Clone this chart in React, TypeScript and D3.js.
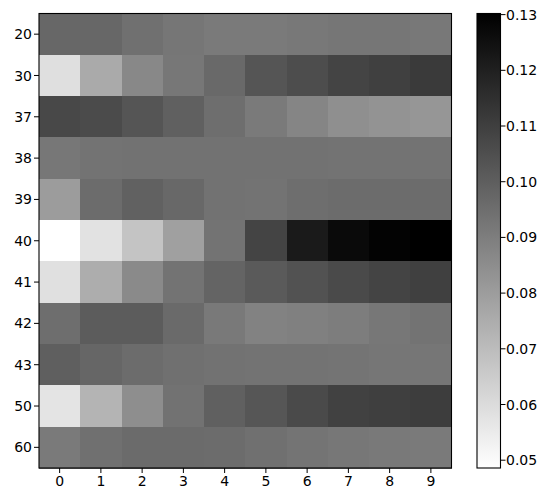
import React from "react";
import * as d3 from "d3";

const rowLabels = ["20", "30", "37", "38", "39", "40", "41", "42", "43", "50", "60"];
const colLabels = ["0", "1", "2", "3", "4", "5", "6", "7", "8", "9"];

const row20 = [0.0972, 0.0972, 0.0944, 0.0924, 0.0912, 0.0912, 0.0918, 0.0924, 0.0924, 0.0918];
const row30 = [0.0588, 0.0758, 0.0867, 0.0921, 0.0966, 0.103, 0.1056, 0.1084, 0.1097, 0.1116];
const row37 = [0.1072, 0.1062, 0.103, 0.0995, 0.095, 0.0912, 0.0876, 0.0844, 0.0832, 0.0822];
const row38 = [0.0921, 0.0934, 0.0937, 0.0937, 0.0937, 0.0937, 0.0937, 0.0934, 0.0934, 0.0934];
const row39 = [0.0803, 0.0956, 0.0992, 0.0969, 0.0937, 0.0934, 0.095, 0.0956, 0.0956, 0.0956];
const row40 = [0.0486, 0.0579, 0.0675, 0.079, 0.0934, 0.1084, 0.1219, 0.127, 0.1292, 0.1302];
const row41 = [0.0585, 0.0748, 0.086, 0.0934, 0.0982, 0.1014, 0.104, 0.1065, 0.1084, 0.1097];
const row42 = [0.095, 0.1008, 0.1008, 0.0963, 0.0915, 0.0886, 0.0892, 0.0902, 0.0921, 0.0934];
const row43 = [0.0998, 0.0976, 0.0956, 0.0944, 0.0937, 0.0934, 0.0934, 0.0931, 0.0924, 0.0924];
const row50 = [0.0572, 0.0726, 0.0848, 0.0937, 0.0995, 0.1027, 0.1065, 0.1094, 0.11, 0.1107];
const row60 = [0.0912, 0.0944, 0.096, 0.096, 0.0956, 0.0944, 0.0931, 0.0921, 0.0915, 0.0912];

const matrix = [row20, row30, row37, row38, row39, row40, row41, row42, row43, row50, row60];
const cbTicks = [0.05, 0.06, 0.07, 0.08, 0.09, 0.1, 0.11, 0.12, 0.13];

const W = 550;
const H = 497;
const plot = { left: 39, right: 451.5, top: 13.5, bottom: 468 };
const cb = { left: 477, right: 500.5, top: 13.5, bottom: 468 };
const FONT = "DejaVu Sans, sans-serif";
const FS = 14;

export default function App() {
  const all = matrix.flat();
  const [vmin, vmax] = d3.extent(all) as [number, number];
  const color = d3
    .scaleLinear<string>()
    .domain([vmin, vmax])
    .range(["#ffffff", "#000000"])
    .interpolate(d3.interpolateRgb)
    .clamp(true);

  const x = d3.scaleBand<string>().domain(colLabels).range([plot.left, plot.right]).padding(0);
  const y = d3.scaleBand<string>().domain(rowLabels).range([plot.top, plot.bottom]).padding(0);
  const cy = d3.scaleLinear().domain([vmin, vmax]).range([cb.bottom, cb.top]);

  return (
    <svg
      width={W}
      height={H}
      style={{ position: "absolute", left: 0, top: 0, background: "#fff" }}
      fontFamily={FONT}
    >
      <defs>
        <linearGradient id="cbgrad" x1="0" y1="1" x2="0" y2="0">
          <stop offset="0%" stopColor="#ffffff" />
          <stop offset="100%" stopColor="#000000" />
        </linearGradient>
      </defs>
      {matrix.map((row, i) =>
        row.map((v, j) => (
          <rect
            key={`${i}-${j}`}
            x={x(colLabels[j])}
            y={y(rowLabels[i])}
            width={x.bandwidth() + 0.5}
            height={y.bandwidth() + 0.5}
            fill={color(v)}
            shapeRendering="crispEdges"
          />
        ))
      )}
      <rect
        x={plot.left}
        y={plot.top}
        width={plot.right - plot.left}
        height={plot.bottom - plot.top}
        fill="none"
        stroke="#000"
        strokeWidth={1.1}
      />
      {colLabels.map((c) => {
        const cx = (x(c) as number) + x.bandwidth() / 2;
        return (
          <g key={c}>
            <line x1={cx} x2={cx} y1={plot.bottom} y2={plot.bottom + 5} stroke="#000" strokeWidth={1} />
            <text x={cx} y={plot.bottom + 17.5} textAnchor="middle" fontSize={FS} fill="#000">
              {c}
            </text>
          </g>
        );
      })}
      {rowLabels.map((r) => {
        const ry = (y(r) as number) + y.bandwidth() / 2;
        return (
          <g key={r}>
            <line x1={plot.left - 5} x2={plot.left} y1={ry} y2={ry} stroke="#000" strokeWidth={1} />
            <text x={plot.left - 7} y={ry} dy="0.36em" textAnchor="end" fontSize={FS} fill="#000">
              {r}
            </text>
          </g>
        );
      })}
      <rect
        x={cb.left}
        y={cb.top}
        width={cb.right - cb.left}
        height={cb.bottom - cb.top}
        fill="url(#cbgrad)"
      />
      <rect
        x={cb.left}
        y={cb.top}
        width={cb.right - cb.left}
        height={cb.bottom - cb.top}
        fill="none"
        stroke="#000"
        strokeWidth={1.1}
      />
      {cbTicks.map((t) => {
        const ty = cy(t);
        return (
          <g key={t}>
            <line x1={cb.right} x2={cb.right + 5} y1={ty} y2={ty} stroke="#000" strokeWidth={1} />
            <text x={cb.right + 5.5} y={ty} dy="0.36em" fontSize={FS} fill="#000">
              {t.toFixed(2)}
            </text>
          </g>
        );
      })}
    </svg>
  );
}
